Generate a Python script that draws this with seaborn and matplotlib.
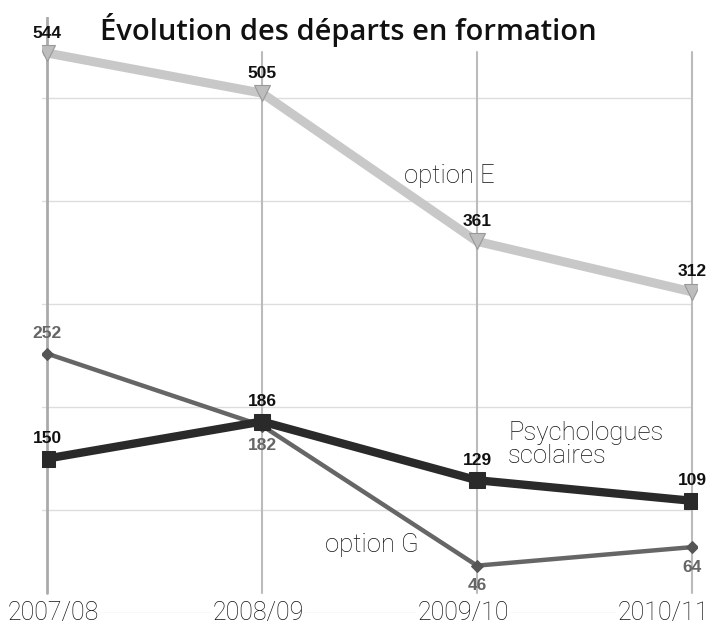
import pandas as pd
import numpy as np
import seaborn as sns
import matplotlib
matplotlib.use('Agg')
import matplotlib.pyplot as plt

# data
years = ['2007/08', '2008/09', '2009/10', '2010/11']
option_e = [544, 505, 361, 312]
option_g = [252, 182, 46, 64]
psycho = [150, 186, 129, 109]
gridlines = [100, 200, 300, 400, 500]

sns.set_style('white')
plt.rcParams['font.family'] = ['Roboto', 'DejaVu Sans']

fig = plt.figure(figsize=(7.08, 6.29), dpi=100)
# axes: x 0 -> px 47, x 3 -> px 692 ; y 0 -> px 613, top px 17
ax = fig.add_axes([42/708, (629-613)/629, 655/708, 596/629])
ax.set_xlim(-5/215, 3 + 5/215)
ax.set_ylim(0, 596/1.0294)

xs = np.arange(len(years))
df = pd.DataFrame({'x': np.tile(xs, 3),
                   'val': option_e + option_g + psycho,
                   'serie': ['option E']*4 + ['option G']*4 + ['Psychologues scolaires']*4})

# grid
for g in gridlines:
    ax.axhline(g, xmin=0, xmax=648/655, color='#dddddd', lw=1, zorder=0)
ax.axhline(0, xmin=0, xmax=648/655, color='#dddddd', lw=1, zorder=0)
ax.axvline(xs[0], ymin=20/596, ymax=1, color='#aaaaaa', lw=2, zorder=0)
for x in xs[1:]:
    ax.axvline(x, ymin=20/596, ymax=561/596, color='#bbbbbb', lw=1.5, zorder=0)

sub = df[df.serie == 'option E']
sns.lineplot(data=sub, x='x', y='val', ax=ax, color='#c8c8c8', lw=6.5,
             marker='v', markersize=11, markerfacecolor='#bdbdbd',
             markeredgecolor='#999999', markeredgewidth=0.8, zorder=3)
sub = df[df.serie == 'option G']
sns.lineplot(data=sub, x='x', y='val', ax=ax, color='#666666', lw=3.2,
             marker='D', markersize=6, markerfacecolor='#555555',
             markeredgecolor='#555555', zorder=4)
sub = df[df.serie == 'Psychologues scolaires']
sns.lineplot(data=sub, x='x', y='val', ax=ax, color='#2a2a2a', lw=6,
             marker='s', markersize=11, markerfacecolor='#2a2a2a',
             markeredgecolor='#2a2a2a', zorder=5)

lab_font = dict(family=['Liberation Sans Narrow', 'Liberation Sans', 'DejaVu Sans'],
                fontweight='bold', fontsize=12.5)
for x, v in zip(xs, option_e):
    ax.annotate(str(v), (x, v), xytext=(0, 9), textcoords='offset points',
                ha='center', va='bottom', color='#111111', **lab_font)
for x, v, up in zip(xs, option_g, [True, False, False, False]):
    ax.annotate(str(v), (x, v), xytext=(0, 9 if up else -9), textcoords='offset points',
                ha='center', va='bottom' if up else 'top', color='#666666', **lab_font)
for x, v in zip(xs, psycho):
    ax.annotate(str(v), (x, v), xytext=(0, 9), textcoords='offset points',
                ha='center', va='bottom', color='#111111', **lab_font)

# x labels
for x, lab, dx in zip(xs, years, [6, -4, -14, -29]):
    ax.annotate(lab, (x, 0), xytext=(dx*0.72, 0), textcoords='offset points',
                ha='center', va='center', fontsize=18, fontweight='light',
                color='#111111', annotation_clip=False,
                bbox=dict(facecolor='white', edgecolor='none', pad=1))

# series labels
ax.text(1.66, 425, 'option E', fontsize=18.5, fontweight='light', color='#111111',
        ha='left', va='center')
ax.text(1.295, 66, 'option G', fontsize=18.5, fontweight='light', color='#111111',
        ha='left', va='center')
ax.text(2.145, 164, 'Psychologues\nscolaires', fontsize=18.5, fontweight='light',
        color='#111111', ha='left', va='center', linespacing=0.95)

ax.set_xticks([])
ax.set_yticks([])
ax.set_xlabel('')
ax.set_ylabel('')
for s in ax.spines.values():
    s.set_visible(False)

fig.text(348/708, 1 - 30/629, 'Évolution des départs en formation',
         ha='center', va='center', fontsize=21, fontweight='semibold',
         family=['Open Sans', 'Noto Sans', 'DejaVu Sans'], color='#111111')

fig.savefig('out.png', dpi=100, facecolor='white')
